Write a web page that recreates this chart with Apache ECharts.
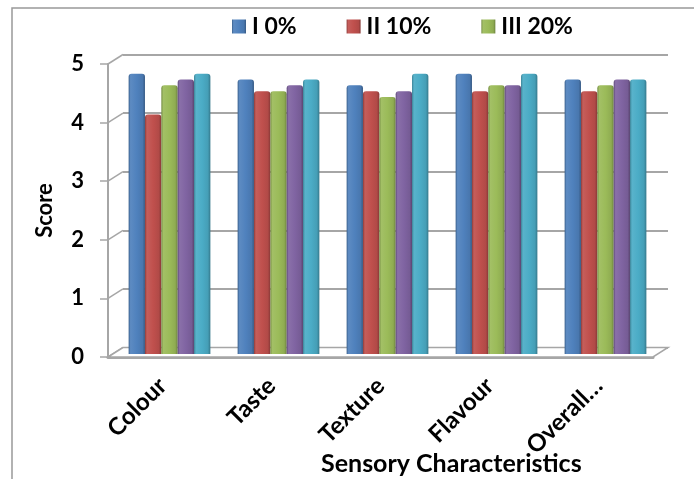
<!DOCTYPE html>
<html>
<head>
<meta charset="utf-8">
<script src="https://cdn.jsdelivr.net/npm/echarts@6/dist/echarts.min.js"></script>
<style>
  html, body { margin: 0; padding: 0; background: #fff; }
  #chart { width: 694px; height: 479px; }
</style>
</head>
<body>
<div id="chart"></div>
<script>
// Sensory scores per characteristic for each treatment level
const categories = ['Colour', 'Taste', 'Texture', 'Flavour', 'Overall\u2026'];
const seriesNames = ['I 0%', 'II 10%', 'III 20%', 'IV 30%', 'V 40%'];
const legendNames = ['I 0%', 'II 10%', 'III 20%'];
const scoresI   = [4.8, 4.7, 4.6, 4.8, 4.7];
const scoresII  = [4.1, 4.5, 4.5, 4.5, 4.5];
const scoresIII = [4.6, 4.5, 4.4, 4.6, 4.6];
const scoresIV  = [4.7, 4.6, 4.5, 4.6, 4.7];
const scoresV   = [4.8, 4.7, 4.8, 4.8, 4.7];
const yTicks = [0, 1, 2, 3, 4, 5];

const seriesData = [scoresI, scoresII, scoresIII, scoresIV, scoresV];
const palette = ['#4F81BD', '#C0504D', '#9BBB59', '#8064A2', '#4BACC6'];

function shade(hex, f) {
  const n = parseInt(hex.slice(1), 16);
  let r = (n >> 16) & 255, g = (n >> 8) & 255, b = n & 255;
  const t = f < 0 ? 0 : 255, p = Math.abs(f);
  r = Math.round((t - r) * p + r);
  g = Math.round((t - g) * p + g);
  b = Math.round((t - b) * p + b);
  return 'rgb(' + r + ',' + g + ',' + b + ')';
}

function barFill(c) {
  return new echarts.graphic.LinearGradient(0, 0, 1, 0, [
    { offset: 0, color: shade(c, -0.25) },
    { offset: 0.12, color: shade(c, 0.08) },
    { offset: 0.5, color: c },
    { offset: 0.85, color: shade(c, -0.08) },
    { offset: 1, color: shade(c, -0.3) }
  ]);
}

const FONT = 'Lato, "Open Sans", sans-serif';
const GRID_GRAY = '#A6A6A6';
const DX = 15, DY = -9.5;   // depth offset of the back wall

const chart = echarts.init(document.getElementById('chart'), null, { renderer: 'canvas' });

const barSeries = seriesNames.map((name, i) => ({
  name: name,
  type: 'bar',
  xAxisIndex: 2,
  yAxisIndex: 2,
  data: seriesData[i],
  barGap: '0%',
  barCategoryGap: '25%',
  z: 3,
  itemStyle: {
    color: barFill(palette[i]),
    borderRadius: [3, 3, 0, 0]
  },
  emphasis: { disabled: true }
}));

// Depth connectors at each tick and the floor of the 3D frame
const frameSeries = {
  type: 'custom',
  xAxisIndex: 0,
  yAxisIndex: 0,
  z: 1,
  silent: true,
  data: yTicks.map(v => [0, v]),
  encode: { x: 0, y: 1 },
  renderItem: function (params, api) {
    const cs = params.coordSys;
    const y = api.coord([0, api.value(1)])[1];
    const x0 = cs.x;
    const children = [{
      type: 'line',
      shape: { x1: x0, y1: y, x2: x0 + DX, y2: y + DY },
      style: { stroke: GRID_GRAY, lineWidth: 1.5 }
    }];
    if (api.value(1) === 0) {
      const x1 = cs.x + cs.width;
      children.push({
        type: 'polygon',
        shape: { points: [[x0, y], [x1, y], [x1 + DX, y + DY], [x0 + DX, y + DY]] },
        style: { fill: '#fff', stroke: GRID_GRAY, lineWidth: 1.5 }
      });
    }
    return { type: 'group', children: children };
  }
};

chart.setOption({
  animation: false,
  backgroundColor: '#fff',
  legend: {
    data: legendNames,
    left: 227,
    top: 10,
    itemWidth: 14,
    itemHeight: 14,
    itemGap: 50,
    icon: 'rect',
    textStyle: { fontFamily: FONT, fontWeight: 'bold', fontSize: 23, color: '#000', padding: [0, 0, 0, 1] }
  },
  title: {
    text: 'Sensory Characteristics',
    left: 316,
    top: 446,
    textStyle: { fontFamily: FONT, fontWeight: 'bold', fontSize: 25, color: '#000' }
  },
  graphic: [{
    type: 'rect',
    shape: { x: 12, y: 8, width: 700, height: 500 },
    style: { fill: 'none', stroke: '#999', lineWidth: 1.5 },
    silent: true,
    z: -10
  }],
  grid: [
    { left: 108, right: 41, top: 64, bottom: 122 },
    { left: 108 + DX, right: 41 - DX, top: 64 + DY, bottom: 122 - DY },
    { left: 115, right: 34, top: 62, bottom: 125 }
  ],
  xAxis: [
    {
      gridIndex: 0,
      type: 'category',
      data: categories,
      axisLine: { show: true, lineStyle: { color: GRID_GRAY, width: 3 } },
      axisTick: { show: false },
      axisLabel: {
        rotate: 45,
        margin: 25,
        fontFamily: FONT,
        fontWeight: 'bold',
        fontSize: 24,
        color: '#000'
      }
    },
    { gridIndex: 1, type: 'category', data: categories, show: false },
    { gridIndex: 2, type: 'category', data: categories, show: false }
  ],
  yAxis: [
    {
      gridIndex: 0,
      type: 'value',
      min: 0,
      max: 5,
      interval: 1,
      name: 'Score',
      nameLocation: 'middle',
      nameGap: 52,
      nameRotate: 90,
      nameTextStyle: { fontFamily: FONT, fontWeight: 'bold', fontSize: 22, color: '#000' },
      axisLine: { show: true, lineStyle: { color: GRID_GRAY, width: 2 } },
      axisTick: { show: true, length: 8, lineStyle: { color: GRID_GRAY, width: 1.5 } },
      axisLabel: { margin: 24, fontFamily: FONT, fontWeight: 'bold', fontSize: 22, color: '#000' },
      splitLine: { show: false }
    },
    {
      gridIndex: 1,
      type: 'value',
      min: 0,
      max: 5,
      interval: 1,
      axisLine: { show: false },
      axisTick: { show: false },
      axisLabel: { show: false },
      splitLine: { show: true, lineStyle: { color: GRID_GRAY, width: 2 } }
    },
    { gridIndex: 2, type: 'value', min: 0, max: 5, show: false, splitLine: { show: false } }
  ],
  series: [frameSeries].concat(barSeries)
});
</script>
</body>
</html>
